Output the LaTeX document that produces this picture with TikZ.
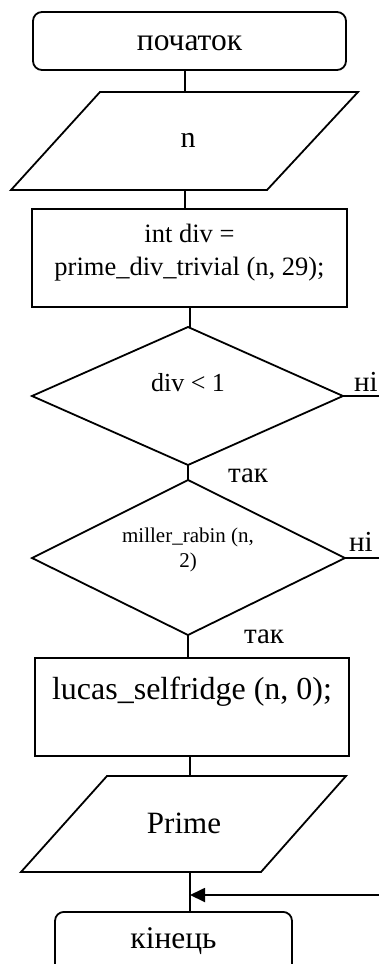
\documentclass[tikz,border=0pt]{standalone}
\usepackage{fontspec}
\setmainfont{Liberation Serif}
\usetikzlibrary{shapes.geometric,arrows.meta}
\begin{document}
\begin{tikzpicture}[x=1pt,y=-1pt,
  lw/.style={line width=1.8pt},
  term/.style={lw,draw,rounded corners=9pt,minimum width=#1,inner sep=0pt},
  procbox/.style={lw,draw,inner sep=0pt},
  txt/.style={inner sep=0pt,align=center},
  lbl/.style={inner sep=0pt,font=\fontsize{29}{32}\selectfont},
  conn/.style={lw}]
\useasboundingbox (0,0) rectangle (379,964);
\clip (0,0) rectangle (379,964);
% start
\node[term=313pt,minimum height=58pt] (start) at (189.5,41) {};
\node[txt,font=\fontsize{31.5}{34}\selectfont] (startt) at (189.5,43) {початок};
% input n
\coordinate (n1) at (100,92); \coordinate (n2) at (358,92);
\coordinate (n3) at (267,190); \coordinate (n4) at (11,190);
\draw[lw,line join=miter] (n1) -- (n2) -- (n3) -- (n4) -- cycle;
\node[txt,font=\fontsize{30}{34}\selectfont] (ntext) at (188,140) {n};
\coordinate (ntop) at (185,92); \coordinate (nbot) at (185,190);
% process 1
\node[procbox,minimum width=315pt,minimum height=98pt] (p1) at (189.5,258) {};
\node[txt,font=\fontsize{26.5}{33}\selectfont] (p1t) at (189.5,253) {int div =\\prime\_div\_trivial (n, 29);};
% decision 1
\coordinate (d1t) at (188,327); \coordinate (d1r) at (343,396);
\coordinate (d1b) at (188,465); \coordinate (d1l) at (32,396);
\draw[lw] (d1t) -- (d1r) -- (d1b) -- (d1l) -- cycle;
\node[txt,font=\fontsize{26}{30}\selectfont] (d1text) at (188,383) {div < 1};
% decision 2
\coordinate (d2t) at (188,480); \coordinate (d2r) at (345,558);
\coordinate (d2b) at (188,635); \coordinate (d2l) at (32,558);
\draw[lw] (d2t) -- (d2r) -- (d2b) -- (d2l) -- cycle;
\node[txt,font=\fontsize{21}{25}\selectfont] (d2text) at (188,550) {miller\_rabin (n,\\2)};
% process 2
\node[procbox,minimum width=314pt,minimum height=98pt] (p2) at (192,707) {};
\node[txt,font=\fontsize{32}{36}\selectfont] (p2t) at (192,692) {lucas\_selfridge (n, 0);};
% output Prime
\coordinate (o1) at (107,776); \coordinate (o2) at (346,776);
\coordinate (o3) at (261,872); \coordinate (o4) at (21,872);
\draw[lw,line join=miter] (o1) -- (o2) -- (o3) -- (o4) -- cycle;
\node[txt,font=\fontsize{31}{34}\selectfont] (otext) at (184,823) {Prime};
\coordinate (otop) at (190,776); \coordinate (obot) at (190,872);
% end
\node[term=237pt,minimum height=64pt,anchor=north] (end) at (173.5,911) {};
\node[txt,font=\fontsize{31.5}{34}\selectfont] (endt) at (173.5,941) {кінець};
% connectors
\draw[conn] (start.south -| ntop) -- (ntop);
\draw[conn] (nbot) -- (nbot |- p1.north);
\draw[conn] (p1.south -| 190,0) -- (190,327);
\draw[conn] (d1b) -- (d2t);
\draw[conn] (d2b) -- (d2b |- p2.north);
\draw[conn] (p2.south -| otop) -- (otop);
\coordinate (join) at (190,895);
\coordinate (rin) at (379,895);
\draw[conn] (obot) -- (obot |- end.north);
\draw[conn,-{Triangle[length=15pt,width=14pt]}] (rin) -- (join);
\coordinate (d1out) at (379,396);
\coordinate (d2out) at (379,558);
\draw[conn] (d1r) -- (d1out);
\draw[conn] (d2r) -- (d2out);
% labels
\node[lbl] (no1) at (366,382) {ні};
\node[lbl] (no2) at (361,542) {ні};
\node[lbl] (yes1) at (248,476) {так};
\node[lbl] (yes2) at (264,637) {так};
\end{tikzpicture}
\end{document}
